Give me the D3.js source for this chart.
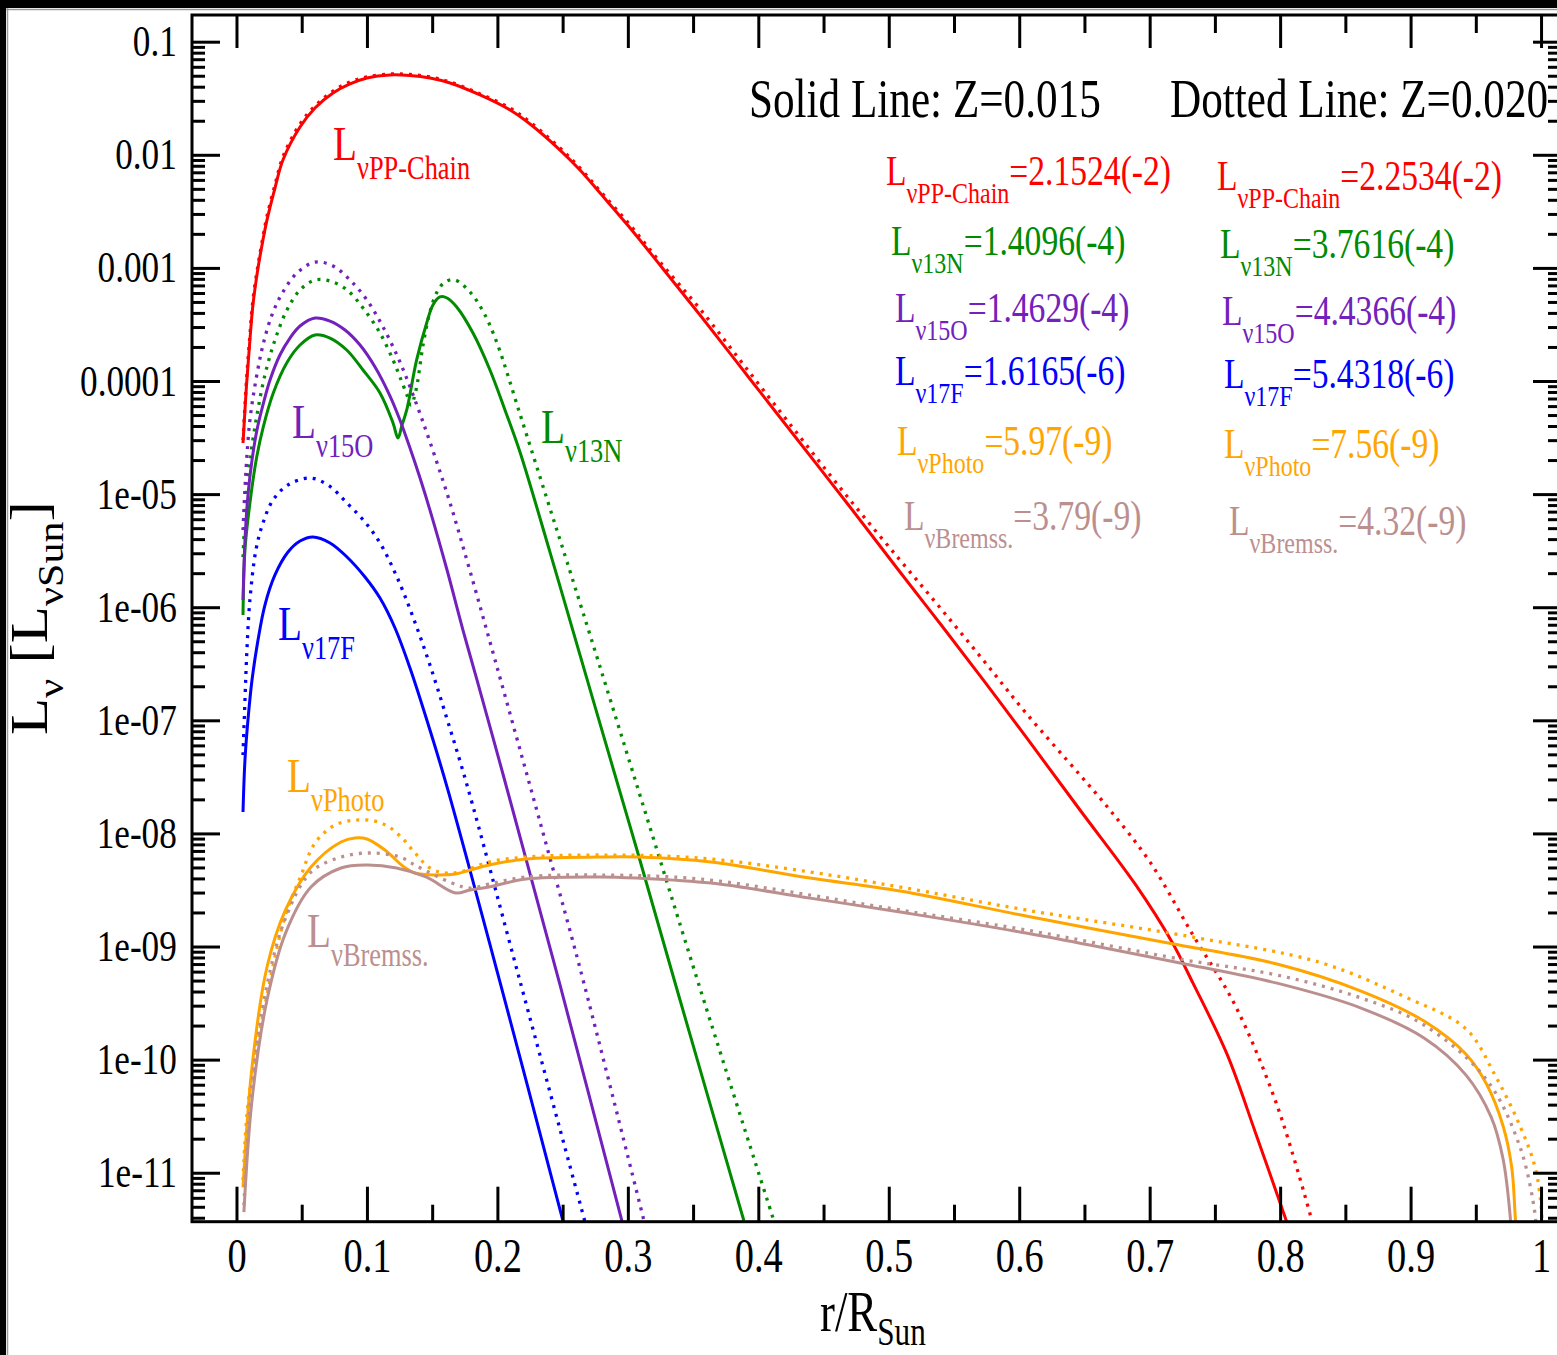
<!DOCTYPE html>
<html>
<head>
<meta charset="utf-8">
<script src="https://cdn.jsdelivr.net/npm/d3@7"></script>
<style>
body { margin: 0; background: #fff; }
svg { display: block; }
text { font-family: "Liberation Serif", "Times New Roman", serif; }
</style>
</head>
<body>
<svg id="chart" width="1557" height="1355"></svg>
<script>

// species names and integrated luminosities (legend)
var species = ["PP-Chain", "13N", "15O", "17F", "Photo", "Bremss."];
var lumZ015 = ["2.1524(-2)", "1.4096(-4)", "1.4629(-4)", "1.6165(-6)", "5.97(-9)", "3.79(-9)"];
var lumZ020 = ["2.2534(-2)", "3.7616(-4)", "4.4366(-4)", "5.4318(-6)", "7.56(-9)", "4.32(-9)"];

// r/Rsun and log10(L) for each curve
// Z=0.015 (solid) and Z=0.020 (dotted)
var rPP015 = [0.005,0.0077,0.0103,0.0126,0.0165,0.0203,0.0234,0.0295,0.0356,0.0487,0.0602,0.074,0.087,0.1,0.1177,0.133,0.1483,0.1637,0.1867,0.2097,0.225,0.248,0.2633,0.2787,0.3017,0.3246,0.3553,0.3936,0.432,0.4703,0.5086,0.5408,0.573,0.6052,0.6466,0.6888,0.7171,0.7332,0.7593,0.7815,0.8055];
var logPP015 = [-4.548,-4.035,-3.637,-3.328,-3.001,-2.753,-2.576,-2.294,-2.046,-1.754,-1.586,-1.454,-1.374,-1.321,-1.294,-1.299,-1.321,-1.365,-1.471,-1.604,-1.728,-1.958,-2.134,-2.338,-2.647,-2.974,-3.416,-3.982,-4.548,-5.114,-5.689,-6.166,-6.652,-7.147,-7.793,-8.447,-8.96,-9.324,-9.952,-10.659,-11.45];
var rPP020 = [0.005,0.0077,0.0103,0.0126,0.0165,0.0203,0.0234,0.0295,0.0356,0.0487,0.0602,0.074,0.087,0.1,0.1177,0.133,0.1483,0.1637,0.1867,0.2097,0.225,0.248,0.2633,0.2787,0.3017,0.3246,0.3553,0.3936,0.432,0.4703,0.5086,0.5408,0.573,0.6052,0.6466,0.6696,0.7003,0.7332,0.7654,0.7976,0.825];
var logPP020 = [-4.522,-3.991,-3.593,-3.284,-2.974,-2.727,-2.541,-2.267,-2.019,-1.728,-1.569,-1.436,-1.356,-1.312,-1.286,-1.29,-1.312,-1.356,-1.462,-1.587,-1.71,-1.94,-2.117,-2.32,-2.621,-2.948,-3.363,-3.929,-4.495,-5.052,-5.583,-6.025,-6.476,-6.936,-7.484,-7.794,-8.254,-8.899,-9.518,-10.403,-11.45];

var rN015 = [0.005,0.0065,0.0103,0.0155,0.0205,0.0282,0.0385,0.0487,0.0602,0.0717,0.0845,0.097,0.11,0.12,0.1238,0.1269,0.1305,0.1381,0.1458,0.1506,0.156,0.1614,0.1688,0.1813,0.1943,0.2058,0.2173,0.2403,0.2633,0.2924,0.307,0.34,0.389];
var logN015 = [-6.069,-5.494,-5.079,-4.672,-4.407,-4.106,-3.841,-3.682,-3.593,-3.62,-3.726,-3.903,-4.106,-4.371,-4.504,-4.389,-4.256,-3.814,-3.487,-3.328,-3.257,-3.266,-3.346,-3.576,-3.903,-4.256,-4.628,-5.513,-6.422,-7.572,-8.147,-9.473,-11.427];
var rN020 = [0.005,0.0073,0.0103,0.0157,0.0218,0.0295,0.0387,0.0487,0.0602,0.0717,0.0847,0.097,0.11,0.12,0.1253,0.1307,0.1338,0.1376,0.143,0.1483,0.1537,0.1598,0.1675,0.179,0.1897,0.1997,0.2173,0.238,0.2534,0.2787,0.3124,0.3553,0.412];
var logN020 = [-5.556,-5.052,-4.699,-4.301,-3.947,-3.637,-3.372,-3.195,-3.107,-3.116,-3.195,-3.355,-3.576,-3.814,-3.965,-4.124,-4.212,-4.08,-3.682,-3.39,-3.213,-3.125,-3.107,-3.213,-3.399,-3.664,-4.292,-5.043,-5.6,-6.529,-7.778,-9.369,-11.427];

var rO015 = [0.005,0.0065,0.0088,0.0119,0.0157,0.0203,0.0257,0.0333,0.041,0.0487,0.0602,0.0717,0.0832,0.0947,0.1062,0.1177,0.1253,0.133,0.1407,0.1483,0.1614,0.1736,0.1844,0.2051,0.2219,0.248,0.2955];
var logO015 = [-5.936,-5.406,-5.008,-4.699,-4.433,-4.212,-3.991,-3.77,-3.62,-3.514,-3.443,-3.47,-3.549,-3.682,-3.876,-4.133,-4.345,-4.593,-4.858,-5.141,-5.671,-6.202,-6.644,-7.51,-8.226,-9.34,-11.427];
var rO020 = [0.005,0.0073,0.0103,0.0149,0.0203,0.0272,0.0356,0.0464,0.0602,0.074,0.087,0.1,0.1123,0.1253,0.1368,0.1483,0.1637,0.179,0.1982,0.2189,0.2365,0.2633,0.3124];
var logO020 = [-5.317,-4.787,-4.345,-3.991,-3.682,-3.416,-3.213,-3.045,-2.948,-2.983,-3.107,-3.284,-3.522,-3.832,-4.168,-4.539,-5.078,-5.68,-6.467,-7.325,-8.059,-9.191,-11.427];

var rF015 = [0.005,0.0065,0.0088,0.0119,0.0165,0.0218,0.0295,0.0395,0.0487,0.0586,0.0717,0.0847,0.0985,0.11,0.1215,0.133,0.1483,0.1621,0.202,0.2503];
var logF015 = [-7.811,-7.351,-6.997,-6.644,-6.29,-5.981,-5.715,-5.512,-5.415,-5.379,-5.432,-5.556,-5.733,-5.919,-6.184,-6.538,-7.086,-7.617,-9.314,-11.427];
var rF020 = [0.005,0.0065,0.008,0.0103,0.0149,0.0203,0.028,0.0395,0.0563,0.0701,0.0847,0.0985,0.11,0.123,0.1353,0.1483,0.1621,0.1767,0.2173,0.2675];
var logF020 = [-7.307,-6.821,-6.378,-5.936,-5.494,-5.256,-5.052,-4.919,-4.858,-4.919,-5.079,-5.247,-5.432,-5.733,-6.087,-6.511,-7.015,-7.572,-9.305,-11.45];

var rPh015 = [0.005,0.0119,0.0234,0.0376,0.0571,0.0801,0.0908,0.1,0.1138,0.1284,0.1368,0.1522,0.168,0.179,0.1936,0.2219,0.2787,0.307,0.3637,0.4396,0.5086,0.6052,0.7141,0.7976,0.862,0.9103,0.9425,0.9582,0.9709,0.9775,0.9801,0.9808];
var logPh015 = [-11.13,-10.066,-9.181,-8.677,-8.297,-8.076,-8.04,-8.049,-8.147,-8.297,-8.35,-8.368,-8.359,-8.324,-8.28,-8.226,-8.209,-8.209,-8.253,-8.395,-8.509,-8.73,-8.969,-9.155,-9.394,-9.659,-9.952,-10.216,-10.587,-10.95,-11.366,-11.508];
var rPh020 = [0.005,0.0092,0.0234,0.0376,0.0487,0.0602,0.0755,0.0916,0.1062,0.1169,0.1269,0.1368,0.1483,0.1598,0.1713,0.1936,0.2219,0.2787,0.3553,0.4396,0.5086,0.6052,0.7332,0.8298,0.8942,0.9425,0.9647,0.9839,0.9954,1.0,1.0008];
var logPh020 = [-11.065,-10.357,-9.429,-8.721,-8.395,-8.085,-7.926,-7.882,-7.891,-7.943,-8.04,-8.173,-8.306,-8.35,-8.341,-8.253,-8.209,-8.191,-8.218,-8.341,-8.474,-8.677,-8.917,-9.138,-9.438,-9.729,-10.137,-10.587,-10.95,-11.286,-11.508];

var rBr015 = [0.0057,0.0119,0.0234,0.0376,0.0571,0.0801,0.1,0.1227,0.1453,0.168,0.179,0.1936,0.2219,0.2787,0.307,0.3637,0.4396,0.5086,0.6052,0.7271,0.7976,0.862,0.9103,0.9425,0.9617,0.9709,0.9762,0.977];
var logBr015 = [-11.348,-10.357,-9.473,-8.881,-8.474,-8.306,-8.28,-8.306,-8.385,-8.527,-8.5,-8.474,-8.403,-8.385,-8.395,-8.439,-8.572,-8.695,-8.881,-9.155,-9.324,-9.544,-9.809,-10.137,-10.507,-10.879,-11.366,-11.508];
var rBr020 = [0.0057,0.0119,0.0234,0.0376,0.0571,0.0801,0.1023,0.1253,0.1368,0.1652,0.179,0.1936,0.2219,0.2787,0.3553,0.4396,0.5086,0.6052,0.7271,0.7976,0.862,0.9103,0.9579,0.9839,0.9954,0.9962];
var logBr020 = [-11.286,-10.224,-9.341,-8.748,-8.342,-8.209,-8.173,-8.209,-8.28,-8.439,-8.483,-8.448,-8.385,-8.368,-8.403,-8.545,-8.677,-8.854,-9.119,-9.252,-9.455,-9.694,-10.172,-10.773,-11.366,-11.508];

var colors = ["#ff0000", "#008b00", "#7221bc", "#0000ff", "#ffa500", "#bc8f8f"];


var svg = d3.select("#chart");

var x = d3.scaleLinear().domain([-0.0341, 1.0153]).range([192, 1561]);
var y = d3.scaleLog().domain([Math.pow(10, -11.433), Math.pow(10, -0.764)]).range([1221.7, 15]);


function subText(parent, px, py, main, sub, rest, size, subSize, subDy, color)
{
	var t = parent.append("text")
		.attr("transform", "translate(" + px + "," + py + ") scale(0.8,1)")
		.attr("font-size", size)
		.attr("fill", color);
	t.append("tspan").text(main);
	t.append("tspan").attr("font-size", subSize).attr("dy", subDy).text(sub);
	if(rest)
		t.append("tspan").attr("font-size", size).attr("dy", -subDy).text(rest);
	return t;
}

function styleAxis(g, fontSize)
{
	g.select(".domain").remove();
	g.selectAll(".tick line").attr("stroke", "#000").attr("stroke-width", 3);
	g.selectAll(".tick text")
		.attr("fill", "#000")
		.attr("font-size", fontSize)
		.attr("font-family", "'Liberation Serif', 'Times New Roman', serif")
		.attr("transform", "scale(0.8,1)");
}

function drawFrame()
{
	svg.append("rect").attr("width", 1557).attr("height", 1355).attr("fill", "#fff");
	svg.append("rect").attr("x", 0).attr("y", 0).attr("width", 1557).attr("height", 8).attr("fill", "#000");
	svg.append("rect").attr("x", 0).attr("y", 0).attr("width", 6).attr("height", 1355).attr("fill", "#000");
	svg.append("line").attr("x1", 6).attr("x2", 1557).attr("y1", 9.5).attr("y2", 9.5).attr("stroke", "#9a9a9a").attr("stroke-width", 1.5);
	svg.append("line").attr("x1", 7.5).attr("x2", 7.5).attr("y1", 8).attr("y2", 1355).attr("stroke", "#9a9a9a").attr("stroke-width", 1.5);
}

function drawAxes()
{
	var yMajor = d3.range(-11, 0).map(function(k) { return Math.pow(10, k); });
	var yMinor = [];
	for(var k = -12; k < 0; k++)
	{
		for(var m = 2; m < 10; m++)
		{
			var v = m * Math.pow(10, k);
			if(v >= y.domain()[0] && v <= y.domain()[1]) yMinor.push(v);
		}
	}
	var xMajor = d3.range(0, 11).map(function(k) { return k / 10; });
	var xMinor = d3.range(0, 10).map(function(k) { return (2 * k + 1) / 20; });

	var fmtY = function(d)
	{
		var k = Math.round(Math.log10(d));
		if(k >= -4) return d.toFixed(-k);
		return "1e-" + (k > -10 ? "0" : "") + (-k);
	};

	svg.append("g").attr("transform", "translate(192,0)")
		.call(d3.axisLeft(y).tickValues(yMajor).tickSize(-28).tickSizeOuter(0).tickPadding(19).tickFormat(fmtY))
		.call(styleAxis, 44);
	svg.append("g").attr("transform", "translate(192,0)")
		.call(d3.axisLeft(y).tickValues(yMinor).tickSize(-13).tickSizeOuter(0).tickFormat(""))
		.call(styleAxis, 44);
	svg.append("g").attr("transform", "translate(1561,0)")
		.call(d3.axisRight(y).tickValues(yMajor).tickSize(-28).tickSizeOuter(0).tickFormat(""))
		.call(styleAxis, 44);
	svg.append("g").attr("transform", "translate(1561,0)")
		.call(d3.axisRight(y).tickValues(yMinor).tickSize(-13).tickSizeOuter(0).tickFormat(""))
		.call(styleAxis, 44);

	svg.append("g").attr("transform", "translate(0,1221.7)")
		.call(d3.axisBottom(x).tickValues(xMajor).tickSize(-35).tickSizeOuter(0).tickPadding(16).tickFormat(function(d) { return String(d); }))
		.call(styleAxis, 48);
	svg.append("g").attr("transform", "translate(0,1221.7)")
		.call(d3.axisBottom(x).tickValues(xMinor).tickSize(-17).tickSizeOuter(0).tickFormat(""))
		.call(styleAxis, 48);
	svg.append("g").attr("transform", "translate(0,15)")
		.call(d3.axisTop(x).tickValues(xMajor).tickSize(-33).tickSizeOuter(0).tickFormat(""))
		.call(styleAxis, 48);
	svg.append("g").attr("transform", "translate(0,15)")
		.call(d3.axisTop(x).tickValues(xMinor).tickSize(-18).tickSizeOuter(0).tickFormat(""))
		.call(styleAxis, 48);

	svg.append("rect")
		.attr("x", 192).attr("y", 15)
		.attr("width", 1561 - 192).attr("height", 1221.7 - 15)
		.attr("fill", "none").attr("stroke", "#000").attr("stroke-width", 3);
}

function drawCurves()
{
	var curves = [
		{r: rPP015, v: logPP015, c: 0, dot: false}, {r: rPP020, v: logPP020, c: 0, dot: true},
		{r: rN015, v: logN015, c: 1, dot: false}, {r: rN020, v: logN020, c: 1, dot: true},
		{r: rO015, v: logO015, c: 2, dot: false}, {r: rO020, v: logO020, c: 2, dot: true},
		{r: rF015, v: logF015, c: 3, dot: false}, {r: rF020, v: logF020, c: 3, dot: true},
		{r: rPh015, v: logPh015, c: 4, dot: false}, {r: rPh020, v: logPh020, c: 4, dot: true},
		{r: rBr015, v: logBr015, c: 5, dot: false}, {r: rBr020, v: logBr020, c: 5, dot: true}
	];

	svg.append("clipPath").attr("id", "plotClip")
		.append("rect").attr("x", 192).attr("y", 15).attr("width", 1561 - 192).attr("height", 1221.7 - 15);

	var line = d3.line()
		.x(function(d) { return x(d[0]); })
		.y(function(d) { return y(Math.pow(10, d[1])); })
		.curve(d3.curveCatmullRom.alpha(0.5));

	svg.append("g").attr("clip-path", "url(#plotClip)")
		.selectAll("path")
		.data(curves)
		.enter()
		.append("path")
		.attr("d", function(d) { return line(d3.zip(d.r, d.v)); })
		.attr("fill", "none")
		.attr("stroke", function(d) { return colors[d.c]; })
		.attr("stroke-width", function(d) { return d.dot ? 3.3 : 3; })
		.attr("stroke-dasharray", function(d) { return d.dot ? "3,6" : null; });
}

function drawText()
{
	svg.append("text").attr("transform", "translate(749,117) scale(0.8,1)")
		.attr("font-size", 54).attr("fill", "#000").text("Solid Line: Z=0.015");
	svg.append("text").attr("transform", "translate(1170,117) scale(0.8,1)")
		.attr("font-size", 54).attr("fill", "#000").text("Dotted Line: Z=0.020");

	// legend columns
	var leftX = [886, 891, 895, 895, 897, 904];
	var leftY = [185, 255, 322, 385, 455, 530];
	var rightX = [1217, 1220, 1222, 1224, 1224, 1229];
	var rightY = [190, 258, 325, 388, 458, 535];
	for(var i = 0; i < species.length; i++)
	{
		subText(svg, leftX[i], leftY[i], "L", "\u03bd" + species[i], "=" + lumZ015[i], 42, 30, 18, colors[i]);
		subText(svg, rightX[i], rightY[i], "L", "\u03bd" + species[i], "=" + lumZ020[i], 42, 30, 18, colors[i]);
	}

	// curve labels
	var labX = [333, 541, 292, 278, 287, 307];
	var labY = [160, 443, 438, 640, 792, 947];
	for(var j = 0; j < species.length; j++)
	{
		subText(svg, labX[j], labY[j], "L", "\u03bd" + species[j], null, 49, 33, 19, colors[j]);
	}

	// axis titles
	subText(svg, 820, 1331, "r/R", "Sun", null, 56, 39, 14, "#000");

	var yt = svg.append("text")
		.attr("transform", "translate(47,735) rotate(-90) scale(1,0.85)")
		.attr("font-size", 61)
		.attr("fill", "#000");
	yt.append("tspan").text("L");
	yt.append("tspan").attr("font-size", 42).attr("dy", 19).text("\u03bd");
	yt.append("tspan").attr("font-size", 61).attr("dy", -19).text(" [L");
	yt.append("tspan").attr("font-size", 42).attr("dy", 19).text("\u03bdSun");
	yt.append("tspan").attr("font-size", 61).attr("dy", -19).text("]");
}

drawFrame();
drawCurves();
drawAxes();
drawText();

</script>
</body>
</html>
